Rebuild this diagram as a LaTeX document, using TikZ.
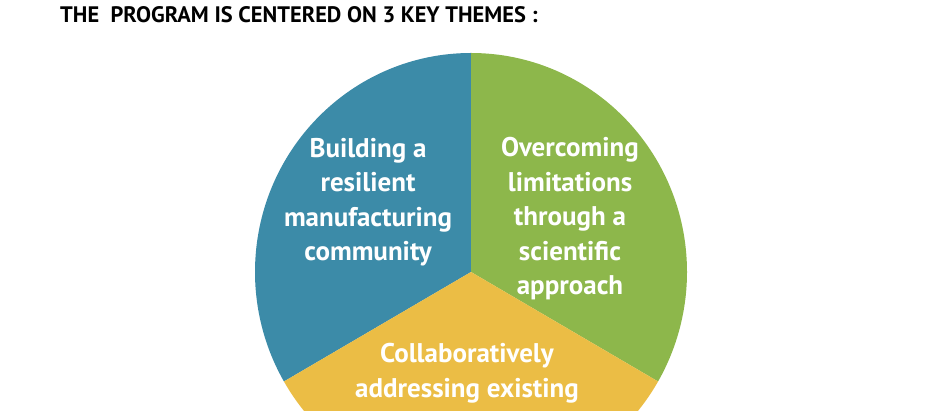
\documentclass[tikz,border=0pt]{standalone}
\usepackage{fontspec}
\setmainfont{PT Sans}
\definecolor{themeblue}{RGB}{60,139,168}
\definecolor{themegreen}{RGB}{141,183,75}
\definecolor{themeyellow}{RGB}{235,189,69}
\tikzset{
  theme/.style={text=white, font=\bfseries\fontsize{27}{34.5}\selectfont, align=center, inner sep=0pt},
  heading/.style={anchor=base west, font=\bfseries\fontsize{22.4}{27}\selectfont, inner sep=0pt}
}
\begin{document}
\begin{tikzpicture}[x=1pt,y=1pt]
\useasboundingbox (0,0) rectangle (934,411);
\clip (0,0) rectangle (934,411);
\node[heading] (title) at (60,388.3) {THE\ \ PROGRAM IS CENTERED ON 3 KEY THEMES :};
% the three sectors
\coordinate (O) at (471,139);
\fill[themeblue](O)--++(90:216pt and 219pt) arc[start angle=90,end angle=210,x radius=216pt,y radius=219pt]--cycle;
\fill[themegreen](O)--++(90:216pt and 219pt) arc[start angle=90,end angle=-30,x radius=216pt,y radius=219pt]--cycle;
\fill[themeyellow](O)--++(210:216pt and 219pt) arc[start angle=210,end angle=330,x radius=216pt,y radius=219pt]--cycle;
\node[theme] (build) at (368,209) {Building a\\resilient\\manufacturing\\community};
\node[theme] (overcome) at (570,192) {Overcoming\\limitations\\through a\\scientific\\approach};
\node[theme] (collab) at (467,38) {Collaboratively\\addressing existing};
\end{tikzpicture}
\end{document}
